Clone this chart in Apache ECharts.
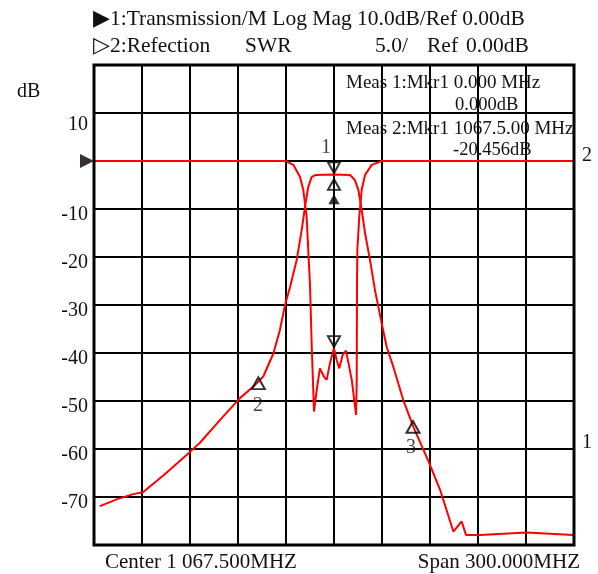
<!DOCTYPE html>
<html>
<head>
<meta charset="utf-8">
<script src="https://cdn.jsdelivr.net/npm/echarts@6/dist/echarts.min.js"></script>
<style>
  html, body { margin: 0; padding: 0; background: #fff; }
  #chart { width: 598px; height: 574px; }
</style>
</head>
<body>
<div id="chart"></div>
<script>
// x = offset from centre (MHz), centre 1067.5 MHz, span 300 MHz
// trace 1: transmission (log mag, dB)
const s21Freq = [-146.3, -135, -125.4, -119.4, -105.6, -90, -83.8, -71.3, -58.8, -50.4, -44.2, -37.9, -33.8,
  -30.6, -27.5, -23.3, -20.2, -18.1, -16.1, -13.9, -11.3, 0, 10, 13.1, 15.2, 17.3, 19.4, 22.5, 25.6,
  29.8, 32.9, 37.1, 43.3, 49.6, 59.6, 66.3, 74.6, 79.8, 82.5, 91.3, 120.4, 149.6]
const s21Db = [-71.9, -70.4, -69.4, -69.0, -65.2, -60.6, -58.7, -54.0, -49.4, -47.0, -44.9, -40.1, -35.2,
  -30.0, -26.3, -20.6, -14.4, -9.5, -5.4, -3.3, -2.9, -2.8, -2.9, -4.0, -6.0, -10.2, -15.0, -20.6, -26.9,
  -33.8, -38.7, -42.9, -49.8, -55.4, -63.0, -68.5, -77.2, -75.1, -77.9, -77.9, -77.4, -77.9]

// trace 2: reflection
const s11Freq = [-150, -30.2, -25.4, -21.3, -19.2, -17.1, -16.1, -15.0, -13.9, -12.5, -10.8, -8.8, -6.3,
  -4.6, -2.5, 0, 1.7, 3.3, 5.4, 7.5, 11.1, 13.8, 14.2, 14.4, 14.6, 15.8, 17.3, 19.4, 23.6, 29.8, 150]
const s11Db = [0, 0, -0.8, -3.3, -6.0, -11.6, -18.5, -25.8, -38.7, -52.2, -47.7, -43.2, -44.9,
  -45.6, -42.1, -39.0, -41.5, -43.2, -40.4, -39.5, -45.6, -52.9, -45.6, -24.8, -18.5, -11.6, -6.0, -2.9, -0.8, 0, 0]

// marker triangles: [x, dB, rotate, size]
const markerPts = [
  [0, -1.4, 180, 12],
  [0, -4.9, 0, 12],
  [0, -8.1, 0, 7],
  [0, -37.6, 180, 12],
  [-47.3, -46.3, 0, 13],
  [49.4, -55.4, 0, 13]
]
// marker numbers
const markerNames = ['1', '2', '3']
const markerNamePos = [[-5, 2.7], [-47.5, -51.0], [48.1, -59.8]]

const font = '"Liberation Serif", "Times New Roman", serif'
const chart = echarts.init(document.getElementById('chart'))

function txt (x, y, text, size, align) {
  return {
    type: 'text',
    x: x,
    y: y,
    style: {
      text: text,
      fontFamily: font,
      fontSize: size || 21,
      fill: '#111',
      align: align || 'left',
      verticalAlign: 'middle'
    }
  }
}

const option = {
  animation: false,
  grid: { left: 94, top: 65, width: 480, height: 480 },
  xAxis: {
    type: 'value',
    min: -150,
    max: 150,
    interval: 30,
    axisLine: { show: false },
    axisTick: { show: false },
    axisLabel: { show: false },
    splitLine: { lineStyle: { color: '#000', width: 2 } }
  },
  yAxis: {
    type: 'value',
    min: -80,
    max: 20,
    interval: 10,
    axisLine: { show: false },
    axisTick: { show: false },
    axisLabel: {
      margin: 6,
      fontFamily: font,
      fontSize: 20,
      color: '#111',
      formatter: v => {
        if (v === 20 || v === 0 || v === -80) return ''
        if (v === 10) return '{up|10}'
        return '{n|' + v + '}'
      },
      rich: {
        n: { fontFamily: font, fontSize: 20, color: '#111', padding: [11, 0, 0, 0] },
        up: { fontFamily: font, fontSize: 20, color: '#111', padding: [24, 0, 0, 0] }
      }
    },
    splitLine: { lineStyle: { color: '#000', width: 2 } }
  },
  graphic: [
    {
      type: 'rect',
      shape: { x: 94, y: 65, width: 480, height: 480 },
      style: { fill: 'none', stroke: '#000', lineWidth: 3 },
      z: 10
    },
    txt(93, 19, '▶1:Transmission/M Log Mag 10.0dB/Ref 0.00dB', 21.5),
    txt(93, 46, '▷2:Refection', 21.5),
    txt(245, 46, 'SWR', 21.5),
    txt(375, 46, '5.0/', 21.5),
    txt(427, 46, 'Ref', 21.5),
    txt(466, 46, '0.00dB', 21.5),
    txt(17, 92, 'dB', 20),
    txt(346, 83, 'Meas 1:Mkr1 0.000 MHz', 19),
    txt(455, 105, '0.000dB', 18.5),
    txt(346, 129, 'Meas 2:Mkr1 1067.5.00 MHz', 19),
    txt(453, 150, '-20.456dB', 18.5),
    txt(582, 156, '2', 20),
    txt(582, 443, '1', 20),
    txt(105, 562, 'Center 1 067.500MHZ'),
    txt(580, 562, 'Span 300.000MHZ', 21, 'right')
  ],
  series: [
    {
      name: 'Reflection',
      type: 'line',
      data: s11Freq.map((f, i) => [f, s11Db[i]]),
      showSymbol: false,
      lineStyle: { color: '#f00', width: 2 },
      z: 3
    },
    {
      name: 'Transmission',
      type: 'line',
      data: s21Freq.map((f, i) => [f, s21Db[i]]),
      showSymbol: false,
      lineStyle: { color: '#f00', width: 2 },
      z: 3
    },
    {
      name: 'markers',
      type: 'scatter',
      clip: false,
      z: 5,
      data: markerPts.map(p => ({
        value: [p[0], p[1]],
        symbol: 'triangle',
        symbolRotate: p[2],
        symbolSize: [p[3], p[3] * 0.9],
        itemStyle: { color: 'rgba(0,0,0,0)', borderColor: '#000', borderWidth: p[3] < 10 ? 2.5 : 2 }
      }))
    },
    {
      name: 'markerNames',
      type: 'scatter',
      clip: false,
      symbolSize: 0,
      z: 5,
      data: markerNamePos.map((p, i) => ({ value: p, name: markerNames[i] })),
      label: {
        show: true,
        position: 'inside',
        formatter: '{b}',
        fontFamily: font,
        fontSize: 20,
        color: '#111'
      }
    },
    {
      name: 'ref',
      type: 'scatter',
      clip: false,
      z: 5,
      data: [[-150, 0]],
      symbol: 'triangle',
      symbolRotate: -90,
      symbolSize: [14, 14],
      symbolOffset: [-7, 0],
      itemStyle: { color: '#000' }
    }
  ]
}
chart.setOption(option)
</script>
</body>
</html>
